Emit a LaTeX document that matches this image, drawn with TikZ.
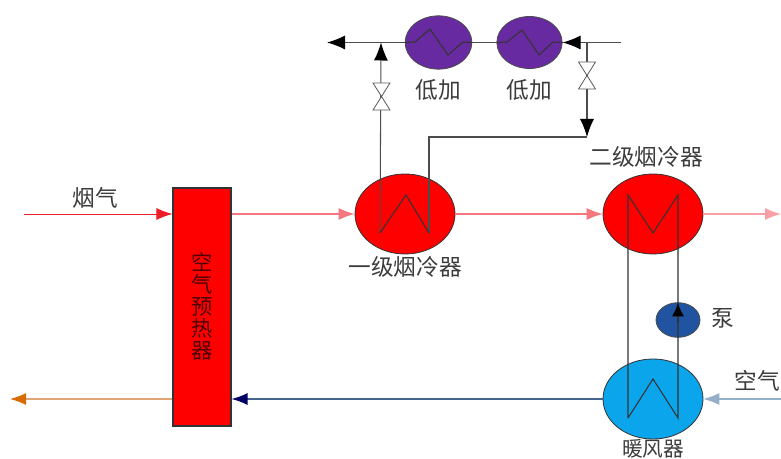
\documentclass[tikz,border=0pt]{standalone}
\usepackage{fontspec}
\setmainfont{Noto Sans CJK SC}
\usepackage{tikz}
\usetikzlibrary{shapes.geometric}
\usetikzlibrary{arrows.meta}

\definecolor{flue}{RGB}{238,30,40}
\definecolor{fluelight}{RGB}{244,120,125}
\definecolor{fluepale}{RGB}{248,160,165}
\definecolor{purpleheat}{RGB}{104,42,160}
\definecolor{skyheat}{RGB}{10,165,235}
\definecolor{pumpblue}{RGB}{32,84,160}
\definecolor{airline}{RGB}{150,175,200}
\definecolor{ductline}{RGB}{70,100,140}
\definecolor{exhaust}{RGB}{225,165,120}
\definecolor{labelgray}{RGB}{60,60,60}

\tikzset{
    heater/.style={ellipse, draw=black!80, line width=0.6pt, inner sep=0pt, minimum width=75pt, minimum height=60pt},
    lowheater/.style={ellipse, draw=black!70, fill=purpleheat, line width=0.6pt, inner sep=0pt},
    pipe/.style={draw=black!70, line width=0.8pt},
    coil/.style={draw=black!80, line width=0.8pt},
    tag/.style={text=labelgray, font=\fontsize{17}{20}\selectfont, inner sep=0pt},
    blacktip/.style={-{Latex[length=13.5pt, width=10.5pt, color=black]}},
    softtip/.style={-{Latex[length=12pt, width=9pt]}},
    valve/.pic={\draw[draw=black!65, fill=white, line width=0.6pt] (-8.5,-13.5) -- (8.5,-13.5) -- (-8.5,13.5) -- (8.5,13.5) -- cycle;}
}

\begin{document}
\begin{tikzpicture}[x=0.75pt, y=-0.75pt]
        \useasboundingbox (0,0) rectangle (781,459);

        % Equipment
        \node[draw=black!80, fill=red, line width=0.8pt, minimum width=43.5pt, minimum height=178.5pt, inner sep=0pt] (preheater) at (202,307) {};
        \node[heater, fill=red] (eco1) at (405,214) {};
        \node[heater, fill=red] (eco2) at (653,214) {};
        \node[heater, fill=skyheat] (warmer) at (653,399) {};
        \node[ellipse, draw=black!70, fill=pumpblue, line width=0.6pt, inner sep=0pt, minimum width=33pt, minimum height=26pt] (pump) at (678,320) {};
        \node[lowheater, minimum width=50pt, minimum height=40pt] (low1) at (438.5,42.5) {};
        \node[lowheater, minimum width=49pt, minimum height=39pt] (low2) at (529.5,42.5) {};

        % Free ends
        \coordinate (fluein) at (24,214);
        \coordinate (flueout) at (781,214);
        \coordinate (stack) at (10,399);
        \coordinate (airin) at (781,399);
        \coordinate (waterout) at (327,42.5);
        \coordinate (waterin) at (621,42.5);
        \coordinate (joinL) at (381,42.5);
        \coordinate (joinR) at (587,42.5);
        \coordinate (turn) at (587,137);
        \coordinate (turnA) at (429,137);
        \coordinate (a1) at (380,233);
        \coordinate (a2) at (406,195);
        \coordinate (a3) at (429,233);
        \coordinate (b1) at (628,195);
        \coordinate (b2) at (653,233);
        \coordinate (b3) at (678,195);
        \coordinate (c1) at (628,418);
        \coordinate (c2) at (653,379);
        \coordinate (c3) at (678,418);
        \coordinate (pumpbase) at (678,322);
        \coordinate (pumptip) at (678,303);

        % Flue gas and air
        \draw[softtip, flue, line width=0.7pt] (fluein) -- (preheater.west |- fluein);
        \draw[softtip, fluelight, line width=0.8pt] (preheater.east |- eco1) -- (eco1);
        \draw[softtip, fluelight, line width=0.8pt] (eco1) -- (eco2);
        \draw[softtip, fluepale, line width=0.8pt] (eco2) -- (flueout);
        \draw[softtip, airline, line width=0.9pt] (airin) -- (warmer);
        \draw[line width=0.9pt, ductline, -{Latex[length=12pt, width=9pt, color=blue!40!black]}] (warmer) -- (preheater.east |- warmer);
        \draw[line width=0.9pt, exhaust, -{Latex[length=12pt, width=9pt, color=orange!85!black]}] (preheater.west |- stack) -- (stack);

        % Water
        \draw[pipe, blacktip] (low1) -- (waterout);
        \draw[pipe] (low2) -- (low1);
        \draw[pipe, blacktip] (waterin) -- (low2);
        \draw[pipe, blacktip] (a1) -- (joinL);
        \draw[pipe, blacktip] (joinR) -- (turn);
        \draw[pipe] (turn) -- (turnA) -- (a3);

        % Coils
        \draw[coil] (a1) -- (a2) -- (a3);
        \draw[coil] (c1) -- (b1) -- (b2) -- (b3) -- (c3) -- (c2) -- (c1);
        \draw[coil] (low1.west) -- (415,42) -- (430,29) -- (448,55) -- (463,42) -- (low1.east);
        \draw[coil] (low2.west) -- (507,42) -- (522,30) -- (539,55) -- (553,42) -- (low2.east);
        \draw[-{Latex[length=10pt, width=9pt, color=black]}, coil] (pumpbase) -- (pumptip);

        % Valves
        \pic at (381.5,96.5) {valve};
        \pic at (587,75.5) {valve};

        % Labels
        \node[tag] (flabel) at (95,198) {烟气};
        \node[tag] (l1label) at (438,90) {低加};
        \node[tag] (l2label) at (529,90) {低加};
        \node[tag] (e2label) at (646,157) {二级烟冷器};
        \node[tag] (e1label) at (405,267) {一级烟冷器};
        \node[tag] (alabel) at (757,381) {空气};
        \node[tag] (plabel) at (723,318) {泵};
        \node[tag, font=\fontsize{15.5}{18}\selectfont] (wlabel) at (653,448.5) {暖风器};
        \node[tag, text=black!70!red, align=center, font=\fontsize{16}{16.5}\selectfont] (hlabel) at (202,306) {空\\气\\预\\热\\器};
    \end{tikzpicture}
\end{document}
